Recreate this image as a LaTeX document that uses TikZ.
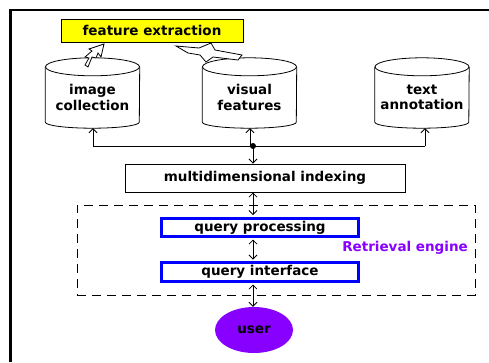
\documentclass[tikz,border=0pt]{standalone}
\usepackage{fontspec}
\setmainfont{DejaVu Sans}
\usetikzlibrary{arrows.meta,shapes.geometric}
\definecolor{qblue}{RGB}{0,0,255}
\definecolor{violetc}{RGB}{136,0,255}
\definecolor{yell}{RGB}{255,255,0}
\newcommand\drawcylinder[1]{%
  \draw[line width=0.8pt] (#1.north west) -- ([yshift=6pt]#1.south west)
    arc[start angle=180,end angle=360,x radius=47pt,y radius=6pt] -- (#1.north east);
  \draw[line width=0.8pt] (#1.north) ellipse[x radius=47pt,y radius=9pt];}
\begin{document}
\begin{tikzpicture}[x=1pt,y=-1pt,
  font=\fontsize{13.5}{15.5}\selectfont\bfseries,
  >={Straight Barb[length=4pt,width=8pt]},
  conn/.style={line width=0.8pt},
  plainbox/.style={draw, line width=1pt, inner sep=0pt},
  qbox/.style={draw=qblue, line width=3pt, inner sep=0pt, minimum width=197pt},
  cyl/.style={minimum width=94pt, minimum height=61pt, inner sep=0pt, align=center},
  bolt/.style={draw, line width=0.8pt, fill=white, line join=miter}]
\useasboundingbox (0,0) rectangle (489,362);
% frame
\draw[line width=2pt] (9,10) -- (489,10);
\draw[line width=3pt] (10.5,9) -- (10.5,362);
% nodes
\node[plainbox, fill=yell, minimum width=182pt, minimum height=23pt] (fe) at (152,30.5) {feature extraction};
\node[cyl] (img) at (92.5,97.5) {image\\collection};
\node[cyl] (vis) at (249.5,97.5) {visual\\features};
\node[cyl] (txt) at (422,97.5) {text\\annotation};
\drawcylinder{img}
\drawcylinder{vis}
\drawcylinder{txt}
\node[plainbox, minimum width=280pt, minimum height=28pt] (idx) at (265,178) {multidimensional indexing};
\node[draw, dash pattern=on 9pt off 6pt, line width=0.8pt, minimum width=398pt, minimum height=90pt, inner sep=0pt] (eng) at (276,250) {};
\node[qbox, minimum height=18pt] (qp) at (260,227.5) {query processing};
\node[qbox, minimum height=19pt] (qi) at (260,272) {query interface};
\node[text=violetc, anchor=east, inner sep=0pt] (lab) at (468,248) {Retrieval engine};
\node[ellipse, fill=violetc, minimum width=78pt, minimum height=46pt, inner sep=0pt] (user) at (254,330) {user};
% lightning arrows
\draw[bolt] (104,44) -- (101,57) -- (98,53) -- (96,58) -- (92,57) -- (88,67) -- (85,65) -- (89,58) -- (85,57) -- (92,51) -- (89,49) -- cycle;
\draw[bolt] (176,46) -- (199,48) -- (211,43) -- (215,50) -- (242,55) -- (238,60) -- (213,57) -- (206,62) -- (200,55) -- (188,53) -- cycle;
% connectors
\coordinate (hl) at (93,146);
\coordinate (hm) at (250,146);
\coordinate (hr) at (425,146);
\coordinate (dot) at (253,146);
\draw[conn] (hl) -- (hr);
\draw[conn,->] (hl) -- (hl |- img.south);
\draw[conn,->] (hm) -- (hm |- vis.south);
\draw[conn,->] (hr) -- (hr |- txt.south);
\fill (dot) circle[radius=3pt];
\draw[conn,->] (dot) -- (dot |- idx.north);
\draw[conn,<->,shorten >=2pt] (idx.south -| dot) -- (qp.north -| dot);
\draw[conn,<->,shorten <=1.5pt,shorten >=1.5pt] (qp.south -| dot) -- (qi.north -| dot);
\draw[conn,<->,shorten <=1.5pt] (qi.south -| dot) -- (user.north -| dot);
\end{tikzpicture}
\end{document}
